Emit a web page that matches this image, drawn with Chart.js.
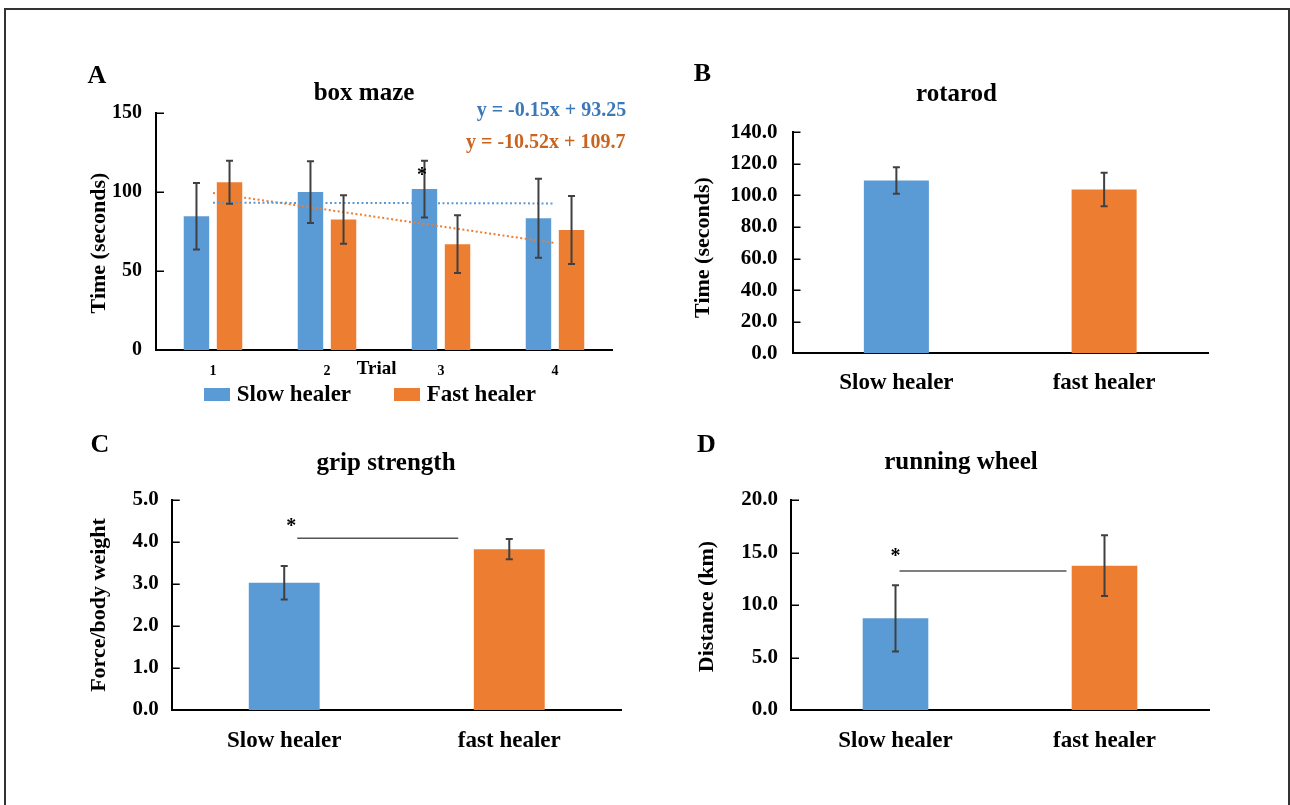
<!DOCTYPE html>
<html>
<head>
<meta charset="utf-8">
<script src="https://cdn.jsdelivr.net/npm/chart.js@4.4.1/dist/chart.umd.min.js"></script>
<style>
  html, body { margin: 0; padding: 0; background: #fff; width: 1290px; height: 805px; overflow: hidden; }
  canvas { position: absolute; left: 0; top: 0; }
  #frame { position: absolute; left: 4px; top: 8px; width: 1282px; height: 900px; border: 2px solid #333; box-sizing: content-box; }
</style>
</head>
<body>
<div id="frame"></div>
<canvas id="cA" width="1290" height="805"></canvas>
<canvas id="cB" width="1290" height="805"></canvas>
<canvas id="cC" width="1290" height="805"></canvas>
<canvas id="cD" width="1290" height="805"></canvas>
<script>
// ---------------- data ----------------
const trials = ['1', '2', '3', '4'];
const slowMaze = [84.5, 99.8, 101.7, 83.3];
const slowMazeErr = [21, 19.5, 18, 25];
const fastMaze = [106, 82.5, 66.9, 75.9];
const fastMazeErr = [13.6, 15.3, 18.2, 21.5];
const slowTrend = [93.1, null, null, 92.65];
const fastTrend = [99.2, null, null, 67.6];
const mazeTickLabels = ['0', '50', '100', '150'];
const mazeTickValues = [0, 50, 100, 150];

const groups = ['Slow healer', 'fast healer'];
const rotarod = [109.5, 103.8];
const rotarodErr = [8.4, 10.6];
const rotarodTickValues = [0, 20, 40, 60, 80, 100, 120, 140];
const rotarodTickLabels = ['0.0', '20.0', '40.0', '60.0', '80.0', '100.0', '120.0', '140.0'];

const grip = [3.03, 3.83];
const gripErr = [0.4, 0.24];
const gripTickValues = [0, 1, 2, 3, 4, 5];
const gripTickLabels = ['0.0', '1.0', '2.0', '3.0', '4.0', '5.0'];
const gripSig = 4.09;

const wheel = [8.73, 13.75];
const wheelErr = [3.16, 2.9];
const wheelTickValues = [0, 5, 10, 15, 20];
const wheelTickLabels = ['0.0', '5.0', '10.0', '15.0', '20.0'];
const wheelSig = 13.24;

const slowEq = 'y = -0.15x + 93.25';
const fastEq = 'y = -10.52x + 109.7';

// ---------------- style ----------------
const FONT = "'Liberation Serif', 'Times New Roman', serif";
const BLUE = '#5B9BD5', ORANGE = '#ED7D31';
const W = 1290, H = 805;

function txt(ctx, s, x, y, size, o = {}) {
  ctx.save();
  ctx.font = 'bold ' + size + 'px ' + FONT;
  ctx.fillStyle = o.color || '#000';
  ctx.textAlign = o.align || 'center';
  ctx.textBaseline = o.base || 'alphabetic';
  ctx.translate(x, y);
  if (o.rot) ctx.rotate(o.rot);
  ctx.fillText(s, 0, 0);
  ctx.restore();
}

const extras = {};

extras.cA = (chart, ctx) => {
  const xs = chart.scales.x;
  txt(ctx, 'A', 97, 83, 26);
  txt(ctx, 'box maze', 364, 100, 25);
  txt(ctx, 'Time (seconds)', 99, 243, 22, { rot: -Math.PI / 2, base: 'middle' });
  txt(ctx, 'Trial', 376.7, 374, 19);
  txt(ctx, slowEq, 476.7, 115.7, 20, { align: 'left', color: '#3B78B8' });
  txt(ctx, fastEq, 466, 148.3, 20, { align: 'left', color: '#C8641F' });
  txt(ctx, '*', xs.getPixelForValue(2) - 19, 176, 20, { base: 'middle' });
  const bars = chart.data.datasets.filter(d => d.type === 'bar');
  const lx = [204, 394];
  bars.forEach((d, i) => {
    ctx.save();
    ctx.fillStyle = d.backgroundColor;
    ctx.fillRect(lx[i], 388, 26, 13);
    ctx.restore();
    txt(ctx, d.label, lx[i] + 32.7, 400.7, 23, { align: 'left' });
  });
};
extras.cB = (chart, ctx) => {
  txt(ctx, 'B', 702.5, 81, 26);
  txt(ctx, 'rotarod', 956.5, 100.7, 25);
  txt(ctx, 'Time (seconds)', 703, 247.5, 22, { rot: -Math.PI / 2, base: 'middle' });
};
extras.cC = (chart, ctx) => {
  const xs = chart.scales.x, ys = chart.scales.y;
  txt(ctx, 'C', 100, 452, 26);
  txt(ctx, 'grip strength', 386, 470, 25);
  txt(ctx, 'Force/body weight', 99, 605, 22, { rot: -Math.PI / 2, base: 'middle' });
  const c0 = xs.getPixelForValue(0), y = ys.getPixelForValue(gripSig);
  ctx.save();
  ctx.strokeStyle = '#555'; ctx.lineWidth = 1.5;
  ctx.beginPath(); ctx.moveTo(c0 + 13, y); ctx.lineTo(c0 + 174, y); ctx.stroke();
  ctx.restore();
  txt(ctx, '*', c0 + 7, y - 11, 20, { base: 'middle' });
};
extras.cD = (chart, ctx) => {
  const xs = chart.scales.x, ys = chart.scales.y;
  txt(ctx, 'D', 706.5, 452, 26);
  txt(ctx, 'running wheel', 961, 468.5, 25);
  txt(ctx, 'Distance (km)', 707.5, 606.5, 22, { rot: -Math.PI / 2, base: 'middle' });
  const c0 = xs.getPixelForValue(0), y = ys.getPixelForValue(wheelSig);
  ctx.save();
  ctx.strokeStyle = '#555'; ctx.lineWidth = 1.5;
  ctx.beginPath(); ctx.moveTo(c0 + 4, y); ctx.lineTo(c0 + 171, y); ctx.stroke();
  ctx.restore();
  txt(ctx, '*', c0, y - 14, 20, { base: 'middle' });
};

const overlay = {
  id: 'overlay',
  afterDatasetsDraw(chart) {
    const ctx = chart.ctx, ys = chart.scales.y;
    chart.data.datasets.forEach((ds, i) => {
      if (!ds.errors) return;
      const meta = chart.getDatasetMeta(i);
      meta.data.forEach((el, j) => {
        const v = ds.data[j], e = ds.errors[j];
        const t = ys.getPixelForValue(v + e), b = ys.getPixelForValue(v - e);
        ctx.save();
        ctx.strokeStyle = '#404040';
        ctx.lineWidth = 2;
        ctx.beginPath();
        ctx.moveTo(el.x, t); ctx.lineTo(el.x, b);
        ctx.moveTo(el.x - 3.5, t); ctx.lineTo(el.x + 3.5, t);
        ctx.moveTo(el.x - 3.5, b); ctx.lineTo(el.x + 3.5, b);
        ctx.stroke();
        ctx.restore();
      });
    });
  },
  afterDraw(chart) {
    const ctx = chart.ctx, ys = chart.scales.y, left = chart.chartArea.left;
    // inward y tick marks
    ctx.save();
    ctx.strokeStyle = '#000';
    ctx.lineWidth = 1.5;
    ctx.beginPath();
    ys.ticks.forEach(t => {
      const y = Math.round(ys.getPixelForValue(t.value)) + 0.25;
      ctx.moveTo(left, y); ctx.lineTo(left + 8, y);
    });
    ctx.stroke();
    ctx.restore();
    const f = extras[chart.canvas.id];
    if (f) f(chart, ctx);
  }
};

function makeChart(id, cfg) {
  const a = cfg.area;
  const pL = cfg.pL;
  const yW = a.L - pL;
  const xH = cfg.xH;
  return new Chart(document.getElementById(id), {
    type: 'bar',
    data: { labels: cfg.labels, datasets: cfg.datasets },
    plugins: [overlay],
    options: {
      responsive: false,
      animation: false,
      devicePixelRatio: 1,
      layout: { padding: { left: pL, top: a.T, right: W - a.R, bottom: H - a.B - xH } },
      plugins: { legend: { display: false }, title: { display: false }, tooltip: { enabled: false } },
      datasets: { bar: { categoryPercentage: cfg.catPct, barPercentage: cfg.barPct } },
      scales: {
        x: {
          grid: { display: false, drawTicks: false },
          border: { display: true, color: '#000', width: 2 },
          ticks: { color: '#000', font: { family: FONT, size: cfg.xFont, weight: 'bold' }, padding: cfg.xPad, autoSkip: false, maxRotation: 0 },
          afterFit: s => { s.height = xH; }
        },
        y: {
          min: cfg.yVals[0],
          max: cfg.yVals[cfg.yVals.length - 1],
          ticks: {
            stepSize: cfg.yVals[1] - cfg.yVals[0],
            autoSkip: false,
            color: '#000',
            font: { family: FONT, size: cfg.yFont, weight: 'bold' },
            padding: cfg.yGap,
            callback: (v) => { const k = cfg.yVals.indexOf(v); return k >= 0 ? cfg.yLabels[k] : ''; }
          },
          grid: { display: false, drawTicks: false },
          border: { display: true, color: '#000', width: 2 },
          afterFit: s => { s.width = yW; }
        }
      }
    }
  });
}

// ---------------- Panel A ----------------
makeChart('cA', {
  labels: trials,
  area: { L: 156, R: 612, T: 112.7, B: 350 },
  pL: 80, xH: 30, xFont: 14, xPad: 13.3, yFont: 20, yGap: 14,
  yVals: mazeTickValues, yLabels: mazeTickLabels,
  catPct: 0.58, barPct: 0.77,
  datasets: [
    { type: 'line', label: 'Slow trend', data: slowTrend, borderColor: BLUE, borderDash: [2, 2.5], borderWidth: 2, pointRadius: 0, spanGaps: true, fill: false, order: 0 },
    { type: 'line', label: 'Fast trend', data: fastTrend, borderColor: ORANGE, borderDash: [2, 2.5], borderWidth: 2, pointRadius: 0, spanGaps: true, fill: false, order: 0 },
    { type: 'bar', label: 'Slow healer', data: slowMaze, errors: slowMazeErr, backgroundColor: BLUE, order: 1 },
    { type: 'bar', label: 'Fast healer', data: fastMaze, errors: fastMazeErr, backgroundColor: ORANGE, order: 1 }
  ]
});

// ---------------- Panel B ----------------
makeChart('cB', {
  labels: groups,
  area: { L: 792.5, R: 1208, T: 132.3, B: 353.3 },
  pL: 700, xH: 50, xFont: 23, xPad: 16.2, yFont: 21, yGap: 15,
  yVals: rotarodTickValues, yLabels: rotarodTickLabels,
  catPct: 1, barPct: 0.313,
  datasets: [
    { label: 'rotarod', data: rotarod, errors: rotarodErr, backgroundColor: [BLUE, ORANGE] }
  ]
});

// ---------------- Panel C ----------------
makeChart('cC', {
  labels: groups,
  area: { L: 171.7, R: 621.8, T: 500, B: 710 },
  pL: 100, xH: 50, xFont: 23, xPad: 16.9, yFont: 21, yGap: 13,
  yVals: gripTickValues, yLabels: gripTickLabels,
  catPct: 1, barPct: 0.315,
  datasets: [
    { label: 'grip strength', data: grip, errors: gripErr, backgroundColor: [BLUE, ORANGE] }
  ]
});

// ---------------- Panel D ----------------
makeChart('cD', {
  labels: groups,
  area: { L: 791, R: 1209, T: 500, B: 710 },
  pL: 700, xH: 50, xFont: 23, xPad: 16.9, yFont: 21, yGap: 13,
  yVals: wheelTickValues, yLabels: wheelTickLabels,
  catPct: 1, barPct: 0.314,
  datasets: [
    { label: 'running wheel', data: wheel, errors: wheelErr, backgroundColor: [BLUE, ORANGE] }
  ]
});
</script>
</body>
</html>
